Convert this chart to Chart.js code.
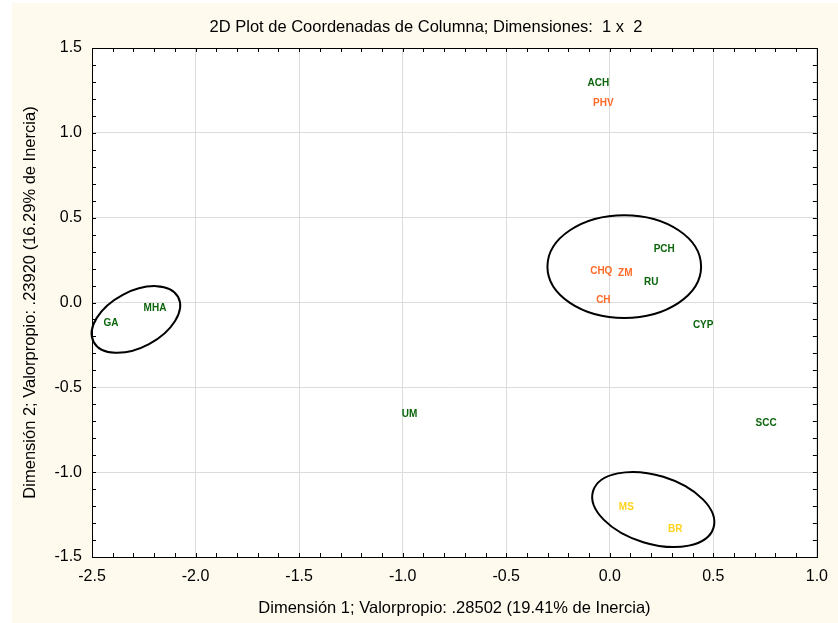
<!DOCTYPE html>
<html><head><meta charset="utf-8">
<script src="https://cdn.jsdelivr.net/npm/chart.js@4.4.1/dist/chart.umd.min.js"></script>
<style>html,body{margin:0;padding:0;background:#fff;}canvas{display:block;}</style>
</head><body>
<canvas id="c" width="838" height="623"></canvas>
<script>
// ---- data ----
const greenLabels = ['ACH','PCH','RU','CYP','MHA','GA','UM','SCC'];
const greenDim1   = [-0.055, 0.263, 0.200, 0.451, -2.196, -2.408, -0.967, 0.755];
const greenDim2   = [ 1.294, 0.316, 0.122, -0.137, -0.031, -0.125, -0.656, -0.709];

const orangeLabels = ['PHV','CHQ','ZM','CH'];
const orangeDim1   = [-0.031, -0.041, 0.075, -0.031];
const orangeDim2   = [ 1.177,  0.187, 0.175,  0.016];

const yellowLabels = ['MS','BR'];
const yellowDim1   = [0.080, 0.316];
const yellowDim2   = [-1.204, -1.334];

const xTickValues = [-2.5, -2.0, -1.5, -1.0, -0.5, 0.0, 0.5, 1.0];
const yTickValues = [-1.5, -1.0, -0.5, 0.0, 0.5, 1.0, 1.5];

// grouping ellipses: centre (dim1, dim2), semi-axes in dim1 units, rotation (deg)
const ellipseCx    = [0.070, -2.288, 0.210];
const ellipseCy    = [0.212, -0.100, -1.220];
const ellipseA     = [0.371, 0.231, 0.304];
const ellipseB     = [0.248, 0.135, 0.165];
const ellipseAngle = [0, -28, 17];

const titleText = '2D Plot de Coordenadas de Columna; Dimensiones:  1 x  2';
const xTitle = 'Dimensión 1; Valorpropio: .28502 (19.41% de Inercia)';
const yTitle = 'Dimensión 2; Valorpropio: .23920 (16.29% de Inercia)';

// ---- build ----
const toPts = (xs, ys) => xs.map((x, i) => ({x: x, y: ys[i]}));
const SANS = '"Liberation Sans", Arial, sans-serif';

const deco = {
  id: 'deco',
  beforeDraw(chart) {
    const {ctx, chartArea: a} = chart;
    ctx.save();
    ctx.fillStyle = '#ffffff';
    ctx.fillRect(0, 0, chart.width, chart.height);
    ctx.fillStyle = '#fefaee';
    ctx.fillRect(12, 3, chart.width - 12, chart.height - 3);
    ctx.fillStyle = '#ffffff';
    ctx.fillRect(a.left, a.top, a.right - a.left, a.bottom - a.top);
    ctx.restore();
  },
  afterDatasetsDraw(chart) {
    const {ctx, chartArea: a, scales: {x, y}} = chart;
    ctx.save();
    // ellipses
    const kx = (x.getPixelForValue(1) - x.getPixelForValue(0));
    ctx.strokeStyle = '#000';
    ctx.lineWidth = 2;
    for (let i = 0; i < ellipseCx.length; i++) {
      ctx.beginPath();
      ctx.ellipse(x.getPixelForValue(ellipseCx[i]), y.getPixelForValue(ellipseCy[i]),
        ellipseA[i] * kx, ellipseB[i] * kx, ellipseAngle[i] * Math.PI / 180, 0, Math.PI * 2);
      ctx.stroke();
    }
    // point labels
    ctx.font = 'bold 10px ' + SANS;
    ctx.textAlign = 'center';
    ctx.textBaseline = 'middle';
    chart.data.datasets.forEach((ds, di) => {
      const meta = chart.getDatasetMeta(di);
      ctx.fillStyle = ds.textColor;
      meta.data.forEach((el, i) => {
        ctx.fillText(ds.pointLabels[i], el.x, el.y);
      });
    });
    // frame
    ctx.lineWidth = 1;
    ctx.strokeStyle = '#000';
    ctx.strokeRect(Math.round(a.left) + 0.5, Math.round(a.top) + 0.5,
      Math.round(a.right - a.left), Math.round(a.bottom - a.top));
    // inward minor ticks every 0.1
    const tl = 4;
    ctx.beginPath();
    for (let k = -25; k <= 10; k++) {
      const px = Math.round(x.getPixelForValue(k / 10)) + 0.5;
      ctx.moveTo(px, a.bottom); ctx.lineTo(px, a.bottom - tl);
      ctx.moveTo(px, a.top); ctx.lineTo(px, a.top + tl);
    }
    for (let k = -15; k <= 15; k++) {
      const py = Math.round(y.getPixelForValue(k / 10)) + 0.5;
      ctx.moveTo(a.left, py); ctx.lineTo(a.left + tl, py);
      ctx.moveTo(a.right, py); ctx.lineTo(a.right - tl, py);
    }
    ctx.stroke();
    ctx.restore();
  }
};

new Chart(document.getElementById('c'), {
  type: 'scatter',
  data: {
    datasets: [
      {data: toPts(greenDim1, greenDim2), pointLabels: greenLabels, textColor: '#0b650b', pointRadius: 0, pointHoverRadius: 0},
      {data: toPts(orangeDim1, orangeDim2), pointLabels: orangeLabels, textColor: '#ff6a28', pointRadius: 0, pointHoverRadius: 0},
      {data: toPts(yellowDim1, yellowDim2), pointLabels: yellowLabels, textColor: '#ffd21e', pointRadius: 0, pointHoverRadius: 0}
    ]
  },
  options: {
    responsive: false,
    animation: false,
    devicePixelRatio: 1,
    events: [],
    layout: {padding: {left: 34, right: 20, top: 0, bottom: 5}},
    plugins: {
      legend: {display: false},
      tooltip: {enabled: false},
      title: {display: true, text: titleText, color: '#000',
        font: {family: SANS, size: 16.5, weight: 'normal', lineHeight: 1.2}, padding: {top: 17.5, bottom: 10.7}}
    },
    scales: {
      x: {
        type: 'linear', min: -2.5, max: 1.0,
        afterBuildTicks: s => { s.ticks = xTickValues.map(v => ({value: v})); },
        ticks: {callback: v => v.toFixed(1), color: '#000', font: {family: SANS, size: 16}, padding: 10, maxRotation: 0, autoSkip: false},
        grid: {color: '#dcdcdc', drawTicks: false},
        border: {display: false},
        title: {display: true, text: xTitle, color: '#000', font: {family: SANS, size: 16.5}, padding: {top: 0, bottom: 0}},
        afterFit: s => { s.height = 61; }
      },
      y: {
        type: 'linear', min: -1.5, max: 1.5,
        afterBuildTicks: s => { s.ticks = yTickValues.map(v => ({value: v})); },
        ticks: {callback: v => v.toFixed(1), color: '#000', font: {family: SANS, size: 16}, padding: 10, autoSkip: false},
        grid: {color: '#dcdcdc', drawTicks: false},
        border: {display: false},
        title: {display: true, text: yTitle, color: '#000', font: {family: SANS, size: 16.5}, padding: {top: -13.4, bottom: 0}},
        afterFit: s => { s.width = 58; }
      }
    }
  },
  plugins: [deco]
});
</script>
</body></html>
